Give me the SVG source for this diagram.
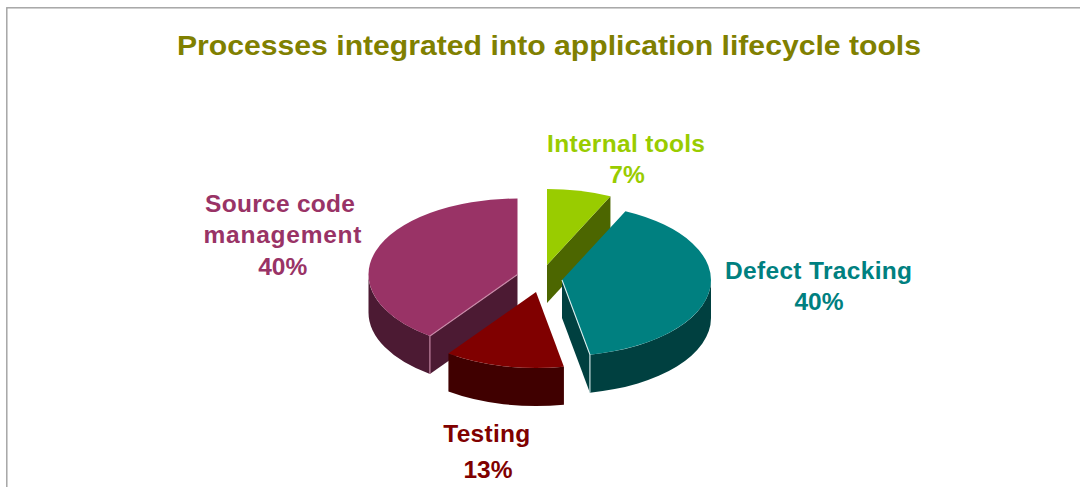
<svg xmlns="http://www.w3.org/2000/svg" width="1080" height="487" viewBox="0 0 1080 487">
<style>
text{font-family:"Liberation Sans",Arial,sans-serif;font-weight:bold;text-anchor:middle}
.title{font-size:28px;fill:#808000}
.lbl{font-size:24.5px}
.edge{fill:none;stroke-width:1.1}
</style>
<rect width="1080" height="487" fill="#ffffff"/>
<rect x="6.8" y="7.8" width="1200" height="600" fill="none" stroke="#a0a0a0" stroke-width="1.4"/>
<text class="title" x="549" y="55" textLength="744" lengthAdjust="spacingAndGlyphs">Processes integrated into application lifecycle tools</text>

<g id="internal-tools">
<path d="M547,265 L610.44,196.24 L610.44,234.24 L547,303 Z" fill="#4C6600"/>
<path d="M547,265 L547,189 A149,76 0 0 1 610.44,196.24 Z" fill="#99CC00"/>
<text class="lbl" x="626" y="152" fill="#99CC00" textLength="158">Internal tools</text>
<text class="lbl" x="627" y="183" fill="#99CC00">7%</text>
</g>

<g id="source-code-management">
<path d="M429.92,335.99 A149,76 0 0 1 368.5,274.5 L368.5,312.5 A149,76 0 0 0 429.92,373.99 Z" fill="#4C1A33"/>
<path d="M517.5,274.5 L429.92,335.99 L429.92,373.99 L517.5,312.5 Z" fill="#4C1A33"/>
<path d="M517.5,274.5 L429.92,335.99 A149,76 0 0 1 517.5,198.5 Z" fill="#993366"/>
<path class="edge" d="M517.5,274.5 L429.92,335.99 L429.92,373.99" stroke="#c98aa8"/>
<text class="lbl" x="280" y="212" fill="#993366" textLength="150">Source code</text>
<text class="lbl" x="282.5" y="243" fill="#993366" textLength="158">management</text>
<text class="lbl" x="282.7" y="275" fill="#993366">40%</text>
</g>

<g id="defect-tracking">
<path d="M711,280 A149,76 0 0 1 589.92,354.65 L589.92,392.65 A149,76 0 0 0 711,318 Z" fill="#004040"/>
<path d="M562,280 L589.92,354.65 L589.92,392.65 L562,318 Z" fill="#004040"/>
<path d="M562,280 L625.44,211.24 A149,76 0 0 1 589.92,354.65 Z" fill="#008080"/>
<path class="edge" d="M562,280 L589.92,354.65 L589.92,392.65" stroke="#d8ecec"/>
<text class="lbl" x="818.5" y="279" fill="#008080" textLength="187">Defect Tracking</text>
<text class="lbl" x="819" y="310" fill="#008080">40%</text>
</g>

<g id="testing">
<path d="M563.92,366.65 A149,76 0 0 1 448.42,353.49 L448.42,391.49 A149,76 0 0 0 563.92,404.65 Z" fill="#400000"/>
<path d="M536,292 L563.92,366.65 A149,76 0 0 1 448.42,353.49 Z" fill="#800000"/>
<text class="lbl" x="486.7" y="442" fill="#800000" textLength="87">Testing</text>
<text class="lbl" x="488" y="478" fill="#800000">13%</text>
</g>
<g id="connectors"/>
</svg>
